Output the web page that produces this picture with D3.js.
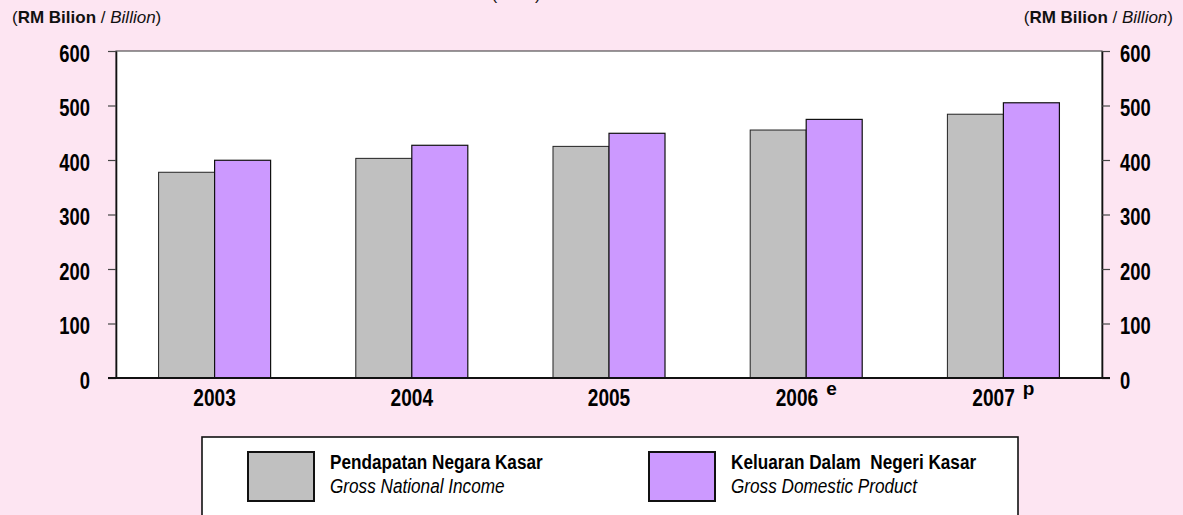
<!DOCTYPE html>
<html>
<head>
<meta charset="utf-8">
<script src="https://cdn.jsdelivr.net/npm/d3@7"></script>
<style>
  body { margin: 0; background: #fde5f2; }
  svg { display: block; }
  .narrow { font-family: "Liberation Sans", Arial, sans-serif; white-space: pre; }
  .reg { font-family: "Liberation Sans", Arial, sans-serif; }
</style>
</head>
<body>
<svg id="chart" width="1183" height="515"></svg>
<script>
// data (RM billion)
const years = ["2003", "2004", "2005", "2006", "2007"];
const yearMarks = ["", "", "", "e", "p"];
const gni = [377.5, 403, 425, 455, 484];
const gdp = [399.5, 427, 449, 474.5, 505];
const yTicks = [0, 100, 200, 300, 400, 500, 600];
const seriesNames = ["Pendapatan Negara Kasar", "Keluaran Dalam  Negeri Kasar"];
const seriesNamesEn = ["Gross National Income", "Gross Domestic Product"];
const colors = ["#c0c0c0", "#cc99ff"];

const width = 1183, height = 515;
const marginLeft = 116, marginRight = 81, marginTop = 51, marginBottom = 137;

const svg = d3.select("#chart");

// no narrow font installed, so squeeze the glyphs to fit
const condense = (sel, k) => sel.each(function () {
  const w = this.getComputedTextLength();
  d3.select(this).attr("textLength", w * k).attr("lengthAdjust", "spacingAndGlyphs");
});

svg.append("rect").attr("width", width).attr("height", height).attr("fill", "#fde5f2");

const x = d3.scaleBand(years, [marginLeft, width - marginRight]).padding(0);
const y = d3.scaleLinear([0, 600], [height - marginBottom, marginTop]);
const barW = x.bandwidth() * 0.284;

// plot area
svg.append("rect")
  .attr("x", marginLeft).attr("y", marginTop)
  .attr("width", width - marginLeft - marginRight)
  .attr("height", y(0) - marginTop)
  .attr("fill", "#fff")
  .attr("stroke", "#333").attr("stroke-width", 1);

// bars
const groups = svg.append("g").selectAll("g")
  .data(years)
  .join("g")
  .attr("transform", d => `translate(${x(d) + x.bandwidth() / 2},0)`);

groups.append("rect")
  .attr("x", -barW)
  .attr("y", (d, i) => y(gni[i]))
  .attr("width", barW)
  .attr("height", (d, i) => y(0) - y(gni[i]))
  .attr("fill", colors[0])
  .attr("stroke", "#222").attr("stroke-width", 1);

groups.append("rect")
  .attr("x", 0)
  .attr("y", (d, i) => y(gdp[i]))
  .attr("width", barW)
  .attr("height", (d, i) => y(0) - y(gdp[i]))
  .attr("fill", colors[1])
  .attr("stroke", "#111").attr("stroke-width", 1.2);

// y axes
const styleAxis = (g, anchor, dx) => {
  g.select(".domain").attr("stroke", "#111").attr("stroke-width", 1.6);
  g.selectAll(".tick line").attr("stroke", "#444").attr("stroke-width", 1.2);
  g.selectAll(".tick text")
    .attr("class", "narrow")
    .attr("font-size", 23).attr("font-weight", "bold").attr("fill", "#000")
    .attr("dy", "0.45em").attr("x", dx)
    .attr("text-anchor", anchor)
    .call(condense, 0.8);
};

svg.append("g")
  .attr("transform", `translate(${marginLeft},0)`)
  .call(d3.axisLeft(y).tickValues(yTicks).tickSize(8).tickSizeOuter(0))
  .call(g => styleAxis(g, "end", -26));

svg.append("g")
  .attr("transform", `translate(${width - marginRight},0)`)
  .call(d3.axisRight(y).tickValues(yTicks).tickSize(8).tickSizeOuter(0))
  .call(g => styleAxis(g, "start", 18));

// x axis
const xg = svg.append("g")
  .attr("transform", `translate(0,${y(0)})`)
  .call(d3.axisBottom(x).tickSize(0).tickSizeOuter(0));
xg.select(".domain").attr("stroke", "#111").attr("stroke-width", 2.2)
  .attr("d", `M${marginLeft - 8},0H${width - marginRight + 8}`);
xg.selectAll(".tick text")
  .attr("class", "narrow")
  .attr("font-size", 23).attr("font-weight", "bold").attr("fill", "#000")
  .attr("y", 28).attr("dy", 0)
  .text(null)
  .each(function (d, i) {
    const t = d3.select(this);
    t.append("tspan").text(d).call(condense, 0.83);
    if (yearMarks[i]) {
      t.append("tspan").attr("dx", 8).attr("dy", -11).attr("font-size", 19).text(yearMarks[i]);
    }
  });

// unit labels
const unit = (xPos, anchor) => {
  const t = svg.append("text").attr("class", "reg")
    .attr("x", xPos).attr("y", 23).attr("font-size", 17)
    .attr("text-anchor", anchor).attr("fill", "#111");
  t.append("tspan").text("(");
  t.append("tspan").attr("font-weight", "bold").text("RM Bilion");
  t.append("tspan").text(" / ");
  t.append("tspan").attr("font-style", "italic").text("Billion");
  t.append("tspan").text(")");
};
unit(12, "start");
unit(1173, "end");

// title above the frame, clipped like in the source
svg.append("text").attr("class", "reg")
  .attr("x", 516).attr("y", -0.5).attr("font-size", 17)
  .attr("text-anchor", "middle").attr("fill", "#111").text("(2000)");

// legend
svg.append("rect")
  .attr("x", 202).attr("y", 437).attr("width", 816).attr("height", 90)
  .attr("fill", "#fff").attr("stroke", "#111").attr("stroke-width", 1.6);

const legend = svg.append("g").selectAll("g")
  .data(seriesNames)
  .join("g")
  .attr("transform", (d, i) => `translate(${[248, 649][i]},452)`);

legend.append("rect")
  .attr("width", 66).attr("height", 49)
  .attr("fill", (d, i) => colors[i])
  .attr("stroke", "#111").attr("stroke-width", 2);

legend.append("text").attr("class", "narrow")
  .attr("x", 82).attr("y", 17)
  .attr("font-size", 19.5).attr("font-weight", "bold").attr("fill", "#000")
  .text(d => d)
  .call(condense, 0.88);

legend.append("text").attr("class", "narrow")
  .attr("x", 82).attr("y", 41)
  .attr("font-size", 19.5).attr("font-style", "italic").attr("fill", "#000")
  .text((d, i) => seriesNamesEn[i])
  .call(condense, 0.88);
</script>
</body>
</html>
